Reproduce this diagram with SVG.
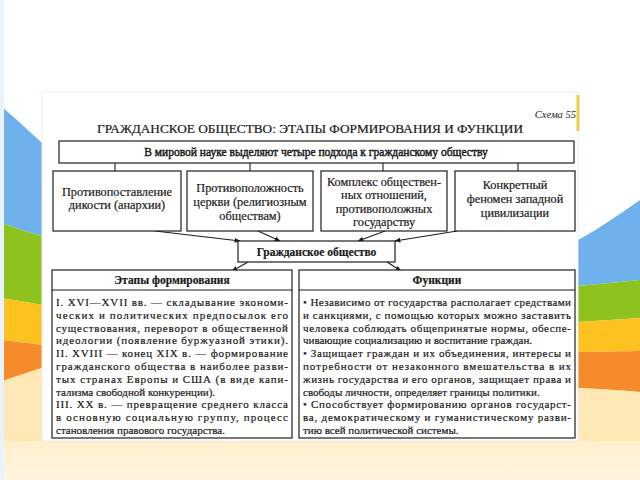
<svg xmlns="http://www.w3.org/2000/svg" width="640" height="480" viewBox="0 0 640 480">
<defs>
<linearGradient id="cream" x1="0" y1="0" x2="0" y2="1">
<stop offset="0" stop-color="#fde3a6"/>
<stop offset="1" stop-color="#fff6e2"/>
</linearGradient>
<marker id="ah" viewBox="0 0 10 10" refX="9" refY="5" markerWidth="6" markerHeight="6" orient="auto" markerUnits="userSpaceOnUse">
<path d="M0,1 L10,5 L0,9 Z" fill="#1a1a1a"/>
</marker>
<style>
.box{fill:#fff;stroke:#1e1e1e;stroke-width:1.2}
.c{text-anchor:middle}
.n{font-size:12.3px}
.b{font-weight:bold}
.p{font-size:11px}
.con{stroke:#1e1e1e;stroke-width:1.1;fill:none}
</style>
</defs>
<g id="background">
<rect x="0" y="0" width="640" height="480" fill="#fdfeff"/>
<rect x="0" y="370" width="640" height="110" fill="url(#cream)"/>
<path d="M0,105 C15,118 30,132 42,143 L42,236 C28,232 14,228 0,222 Z" fill="#6fb1ec"/>
<path d="M0,222 C14,228 28,232 42,236 L42,305 C28,302 14,300 0,298 Z" fill="#8ec31f"/>
<path d="M0,298 C14,300 28,302 42,305 L42,345 C28,343 14,341 0,340 Z" fill="#fcc220"/>
<path d="M0,340 C14,341 28,343 42,345 L42,368 C28,372 14,377 0,382 Z" fill="#f68b2c"/>
<path d="M0,382 C14,377 28,372 42,368 L42,441 L0,441 Z" fill="#fde8b6"/>
<path d="M578,240 C600,228 620,214 640,200 L640,280 C620,282 600,284 578,286 Z" fill="#6fb1ec"/>
<path d="M578,286 C600,284 620,282 640,280 L640,318 C620,319 600,321 578,322 Z" fill="#8ec31f"/>
<path d="M578,322 C600,321 620,319 640,318 L640,351 C620,351 600,352 578,352 Z" fill="#fcc220"/>
<path d="M578,352 C600,352 620,351 640,351 L640,392 C620,390 600,389 578,388 Z" fill="#f68b2c"/>
<path d="M578,388 C600,389 620,390 640,392 L640,441 L578,441 Z" fill="#fde8b6"/>
<rect x="0" y="0" width="4" height="480" fill="#eaf3fb"/>
</g>
<g id="panel">
<rect x="42" y="92" width="536" height="349" fill="#ffffff" stroke="#ececec" stroke-width="1"/>
<rect x="576.5" y="95" width="3" height="36" fill="#f2c94c"/>
</g>
<g id="connectors">
<line class="con" x1="115" y1="163" x2="115" y2="171"/>
<line class="con" x1="250" y1="163" x2="250" y2="171"/>
<line class="con" x1="383" y1="163" x2="383" y2="171"/>
<line class="con" x1="518" y1="163" x2="518" y2="171"/>
<line class="con" x1="155" y1="231" x2="240" y2="241" marker-end="url(#ah)"/>
<line class="con" x1="258" y1="231" x2="280" y2="241" marker-end="url(#ah)"/>
<line class="con" x1="385" y1="231" x2="358" y2="241" marker-end="url(#ah)"/>
<line class="con" x1="457" y1="231" x2="395" y2="241" marker-end="url(#ah)"/>
<line class="con" x1="248" y1="262" x2="232" y2="271" marker-end="url(#ah)"/>
<line class="con" x1="387" y1="262" x2="401" y2="271" marker-end="url(#ah)"/>
</g>
<g font-family="Liberation Serif, Times New Roman, serif" fill="#1a1a1a" stroke="#1a1a1a" stroke-width="0.2">
<g id="header">
<text x="576" y="118" font-size="10.5" font-style="italic" text-anchor="end" stroke="none">Схема 55</text>
<text class="c" x="310" y="133" font-size="12.5" textLength="426" lengthAdjust="spacingAndGlyphs">ГРАЖДАНСКОЕ ОБЩЕСТВО: ЭТАПЫ ФОРМИРОВАНИЯ И ФУНКЦИИ</text>
</g>
<g id="approaches">
<rect class="box" x="59" y="141" width="515" height="22"/>
<text class="c" x="316" y="156" font-size="11.5" stroke-width="0.45">В мировой науке выделяют четыре подхода к гражданскому обществу</text>
</g>
<g id="node-anarchy">
<rect class="box" x="53" y="171" width="128" height="60"/>
<text class="c n" x="117" y="196">Противопоставление</text>
<text class="c n" x="117" y="209">дикости (анархии)</text>
</g>
<g id="node-church">
<rect class="box" x="187" y="171" width="126" height="60"/>
<text class="c n" x="250" y="192">Противоположность</text>
<text class="c n" x="250" y="206">церкви (религиозным</text>
<text class="c n" x="250" y="220">обществам)</text>
</g>
<g id="node-complex">
<rect class="box" x="321" y="171" width="126" height="60"/>
<text class="c n" x="384" y="186">Комплекс обществен-</text>
<text class="c n" x="384" y="199">ных отношений,</text>
<text class="c n" x="384" y="212.5">противоположных</text>
<text class="c n" x="384" y="226">государству</text>
</g>
<g id="node-west">
<rect class="box" x="455" y="171" width="120" height="60"/>
<text class="c n" x="515" y="189">Конкретный</text>
<text class="c n" x="515" y="203">феномен западной</text>
<text class="c n" x="515" y="217">цивилизации</text>
</g>
<g id="node-civil">
<rect class="box" x="238" y="241" width="157" height="21"/>
<text class="c b" x="316.5" y="255.5" font-size="11.5">Гражданское общество</text>
</g>
<g id="node-stages">
<rect class="box" x="52" y="270" width="240" height="168"/>
<line x1="52" y1="290" x2="292" y2="290" stroke="#1e1e1e" stroke-width="1.2"/>
<text class="c b" x="172" y="284" font-size="11.5">Этапы формирования</text>
<g class="p">
<text x="56" y="306" textLength="232" lengthAdjust="spacing">I. XVI—XVII вв. — складывание экономи-</text>
<text x="56" y="318.8" textLength="232" lengthAdjust="spacing">ческих и политических предпосылок его</text>
<text x="56" y="331.6" textLength="232" lengthAdjust="spacing">существования, переворот в общественной</text>
<text x="56" y="344.4" textLength="232" lengthAdjust="spacing">идеологии (появление буржуазной этики).</text>
<text x="56" y="357.2" textLength="232" lengthAdjust="spacing">II. XVIII — конец XIX в. — формирование</text>
<text x="56" y="370" textLength="232" lengthAdjust="spacing">гражданского общества в наиболее разви-</text>
<text x="56" y="382.8" textLength="232" lengthAdjust="spacing">тых странах Европы и США (в виде капи-</text>
<text x="56" y="395.6">тализма свободной конкуренции).</text>
<text x="56" y="408.4" textLength="232" lengthAdjust="spacing">III. XX в. — превращение среднего класса</text>
<text x="56" y="421.2" textLength="232" lengthAdjust="spacing">в основную социальную группу, процесс</text>
<text x="56" y="434">становления правового государства.</text>
</g>
</g>
<g id="node-functions">
<rect class="box" x="299" y="270" width="276" height="168"/>
<line x1="299" y1="290" x2="575" y2="290" stroke="#1e1e1e" stroke-width="1.2"/>
<text class="c b" x="437" y="284" font-size="11.5">Функции</text>
<g class="p">
<text x="303" y="306" textLength="268" lengthAdjust="spacing">• Независимо от государства располагает средствами</text>
<text x="303" y="318.8" textLength="268" lengthAdjust="spacing">и санкциями, с помощью которых можно заставить</text>
<text x="303" y="331.6" textLength="268" lengthAdjust="spacing">человека соблюдать общепринятые нормы, обеспе-</text>
<text x="303" y="344.4">чивающие социализацию и воспитание граждан.</text>
<text x="303" y="357.2" textLength="268" lengthAdjust="spacing">• Защищает граждан и их объединения, интересы и</text>
<text x="303" y="370" textLength="268" lengthAdjust="spacing">потребности от незаконного вмешательства в их</text>
<text x="303" y="382.8" textLength="268" lengthAdjust="spacing">жизнь государства и его органов, защищает права и</text>
<text x="303" y="395.6">свободы личности, определяет границы политики.</text>
<text x="303" y="408.4" textLength="268" lengthAdjust="spacing">• Способствует формированию органов государст-</text>
<text x="303" y="421.2" textLength="268" lengthAdjust="spacing">ва, демократическому и гуманистическому разви-</text>
<text x="303" y="434">тию всей политической системы.</text>
</g>
</g>
</g>
</svg>
